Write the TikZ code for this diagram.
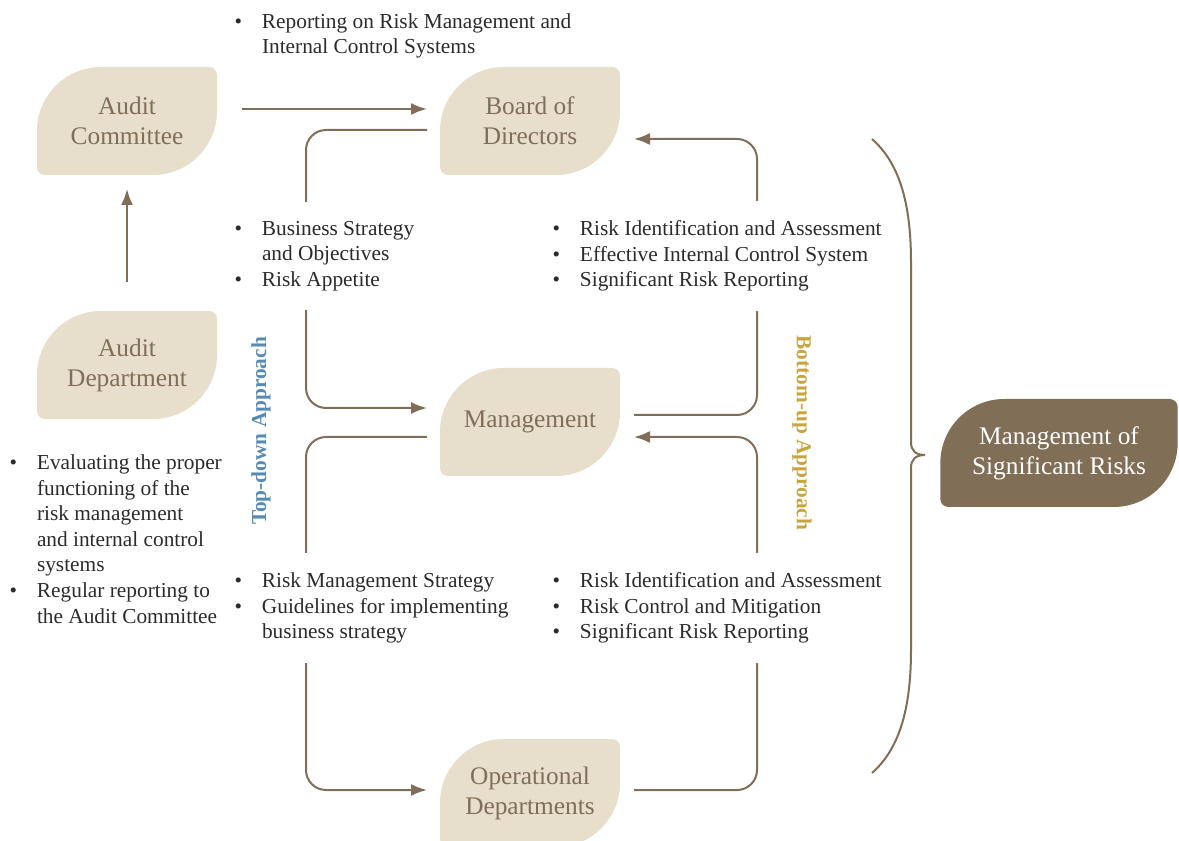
\documentclass[tikz,border=0pt]{standalone}
\usepackage{fontspec}
\setmainfont{Liberation Serif}
\usepackage{tikz}
\usetikzlibrary{arrows.meta,calc,positioning}
\definecolor{leaffill}{RGB}{231,222,203}
\definecolor{leaftext}{RGB}{128,111,88}
\definecolor{linecol}{RGB}{128,110,88}
\definecolor{darkleaf}{RGB}{128,110,86}
\definecolor{bodytext}{RGB}{43,43,43}
\definecolor{topblue}{RGB}{86,140,180}
\definecolor{upgold}{RGB}{200,165,60}
\newcommand{\bitem}[1]{\makebox[18pt][l]{\hspace{-2.5pt}\textbullet}#1}
\newcommand{\bcont}[1]{\hspace*{18pt}#1}

\begin{document}
\begin{tikzpicture}[x=0.75pt,y=-0.75pt,line width=1.5pt]
    \tikzset{leaf/.style={minimum width=135pt, minimum height=81pt, inner sep=0pt, align=center,
        font=\fontsize{19}{22.5}\selectfont, text=leaftext, fill=white,
        path picture={\fill[#1] ($(path picture bounding box.south west)+(0pt,6pt)$)
          -- ($(path picture bounding box.north west)+(0pt,-48pt)$) arc[start angle=180, end angle=90, radius=48pt]
          -- ($(path picture bounding box.north east)+(-6pt,0pt)$) arc[start angle=90, end angle=0, radius=6pt]
          -- ($(path picture bounding box.south east)+(0pt,48pt)$) arc[start angle=0, end angle=-90, radius=48pt]
          -- ($(path picture bounding box.south west)+(6pt,0pt)$) arc[start angle=270, end angle=180, radius=6pt]
          -- cycle;}},
      leaf/.default=leaffill}
    \tikzstyle{flow}=[draw=linecol, rounded corners=15pt, -{Latex[length=12pt,width=9pt]}]
    \tikzstyle{note}=[align=left, anchor=west, fill=white, inner xsep=3pt, inner ysep=14.5pt,
      text=bodytext, font=\fontsize{16}{19.2}\selectfont]
    \tikzstyle{approach}=[font=\fontsize{16}{19}\selectfont\bfseries]

    \useasboundingbox (0,0) rectangle (1179,841);

    \node[leaf]    (ac)   at (127,121) {Audit\\Committee};
    \node[leaf]    (bod)  at (530,121) {Board of\\Directors};
    \node[leaf]    (ad)   at (127,365) {Audit\\Department};
    \node[leaf]    (mgmt) at (530,422) {Management};
    \node[leaf]    (opd)  at (530,793) {Operational\\Departments};
    \node[leaf=darkleaf, text=white, minimum width=178pt] (msr) at (1059,453) {Management of\\Significant Risks};

    \draw[flow] ([shift={(24,-12)}]ac.east) -- ([shift={(-12,-12)}]bod.west);
    \draw[flow] ([shift={(0,-28)}]ad.north) -- ([shift={(0,13)}]ac.south);
    \draw[flow] ([shift={(-12,9)}]bod.west) -- ++(-121,0) |- ([shift={(-12,-14)}]mgmt.west);
    \draw[flow] ([shift={(-12,15)}]mgmt.west) -- ++(-121,0) |- ([shift={(-12,-3)}]opd.west);
    \draw[flow] ([shift={(13,-3)}]opd.east) -- ++(123,0) |- ([shift={(13,15)}]mgmt.east);
    \draw[flow] ([shift={(13,-7)}]mgmt.east) -- ++(123,0) |- ([shift={(13,18)}]bod.east);

    \draw[linecol] (872,139) .. controls (898,162) and (911,200) .. (911,262) -- (911,442)
      .. controls (911,451) and (916,455) .. (925,455) .. controls (916,455) and (911,459) .. (911,468)
      -- (911,650) .. controls (911,712) and (898,750) .. (872,773);

    \node[note, fill=none] (report) at (233,36) {\bitem{Reporting on Risk Management and}\\\bcont{Internal Control Systems}};
    \node[note] (strategy) at (233,256) {\bitem{Business Strategy}\\\bcont{and Objectives}\\\bitem{Risk Appetite}};
    \node[note] (assess)   at (551,256) {\bitem{Risk Identification and Assessment}\\\bitem{Effective Internal Control System}\\\bitem{Significant Risk Reporting}};
    \node[note] (guide)    at (233,608) {\bitem{Risk Management Strategy}\\\bitem{Guidelines for implementing}\\\bcont{business strategy}};
    \node[note] (control)  at (551,608) {\bitem{Risk Identification and Assessment}\\\bitem{Risk Control and Mitigation}\\\bitem{Significant Risk Reporting}};
    \node[note, fill=none] (evaluate) at (8,539) {\bitem{Evaluating the proper}\\\bcont{functioning of the}\\\bcont{risk management}\\\bcont{and internal control}\\\bcont{systems}\\\bitem{Regular reporting to}\\\bcont{the Audit Committee}};

    \node[approach, rotate=90, text=topblue]  (topdown)  at (261,431) {Top-down Approach};
    \node[approach, rotate=-90, text=upgold]  (bottomup) at (802,433) {Bottom-up Approach};
\end{tikzpicture}
\end{document}
